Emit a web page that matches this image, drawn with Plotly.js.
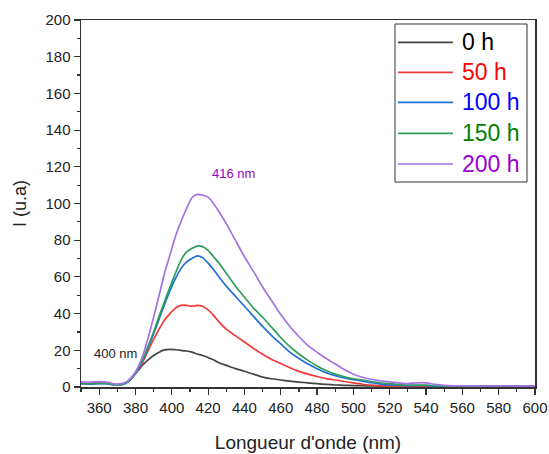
<!DOCTYPE html>
<html>
<head>
<meta charset="utf-8">
<script src="https://cdn.plot.ly/plotly-3.0.1.min.js"></script>
<style>html,body{margin:0;padding:0;background:#fff;}#chart{width:549px;height:454px;}</style>
</head>
<body>
<div id="chart"></div>
<script>
// Wavelength (nm)
var wavelength = [350,355,360,365,368,372,375,378,381,384,387,390,393,396,399,402,405,408,411,414,417,420,423,426,430,435,440,445,450,455,460,465,470,475,480,485,490,495,500,505,510,515,520,525,530,535,540,545,550,560,570,580,590,600];

var i0h   = [2.3,2.1,2.3,2.1,1.4,1.5,2.5,5,8.5,12,14.8,17.2,19,20.2,20.5,20.3,20,19.6,19,18,17.2,16,14.8,13.2,11.8,10,8.6,7,5.4,4.5,3.8,3.2,2.7,2.2,1.8,1.4,1.1,0.9,0.8,0.7,0.6,0.5,0.5,0.4,0.4,0.4,0.4,0.3,0.3,0.3,0.3,0.3,0.3,0.3];
var i50h  = [2.2,2.0,2.2,2.0,1.3,1.4,2.4,5,9,13.5,20,26,31.5,36.5,40,43,44.5,44.5,44,44.5,44,42,39,35.5,31.5,28,24.5,21,17.8,15,12.8,10.5,8.5,7,5.7,4.6,3.8,3,2.2,1.5,1.0,0.6,0.5,0.4,0.4,0.5,0.4,0.3,0.3,0.3,0.3,0.3,0.3,0.3];
var i100h = [1.8,1.6,1.8,1.7,1.1,1.2,2.2,4.8,9,14.5,21.5,29,37,45,52.5,59,64.5,68,70,71.5,70.5,67.5,64,60,55,49.5,44,38.5,33,28,23.5,19,15.5,12.5,10,7.8,6.2,5,4,3.2,2.3,1.6,1.2,1.0,0.8,0.8,0.8,0.5,0.4,0.3,0.3,0.3,0.3,0.3];
var i150h = [2.0,1.8,2.0,1.9,1.2,1.3,2.3,5,9.5,15,22.5,30,38.5,46.5,54.5,62,69,73.5,75.5,76.8,76.5,74.5,71,67.5,62,55,49,43,38,32.5,27,22,18,14.5,11.5,9,7,5.5,4.5,3.8,3,2.3,1.8,1.3,1.0,1.0,1.0,0.7,0.5,0.4,0.3,0.3,0.3,0.3];
var i200h = [2.8,2.6,2.9,2.6,1.7,1.8,2.8,5.5,10,17,27,38,50,62,72,82,90,97,103,105,104.5,103.5,100,95.5,89,80,71,63,54.5,47,39.5,33,27.5,22.5,19,15.5,12.5,9.5,7,5.3,4.2,3.4,2.8,2.2,1.8,2.3,2.3,1.4,0.9,0.6,0.5,0.6,0.5,0.5];

var seriesNames = ['0 h','50 h','100 h','150 h','200 h'];
var seriesData = [i0h, i50h, i100h, i150h, i200h];
var lineColors = ['#444444','#f03a3a','#2170d8','#2f9d5f','#a572e2'];
var textColors = ['#000000','#ff0000','#0000ff','#008000','#9900cc'];

var xTicks = [360,380,400,420,440,460,480,500,520,540,560,580,600];
var yTicks = [0,20,40,60,80,100,120,140,160,180,200];

var traces = seriesData.map(function(d, i){
  return {x: wavelength, y: d, type: 'scatter', mode: 'lines', name: seriesNames[i],
          line: {color: lineColors[i], width: 1.7, shape: 'spline', smoothing: 0.6}, showlegend: false};
});

// plot area in pixels
var L = 81, R = 535, T = 20, B = 387;
function px(x){ return (x - L) / (R - L); }
function py(y){ return (B - y) / (B - T); }

var shapes = [{type:'rect', xref:'paper', yref:'paper', x0:px(395), x1:px(527), y0:py(182), y1:py(24),
  line:{color:'#333', width:1}, fillcolor:'rgba(255,255,255,1)', layer:'above'}];
var annotations = [
  {x:369, y:18.5, xref:'x', yref:'y', text:'400 nm', showarrow:false, font:{family:'Liberation Sans, Arial', size:13, color:'#222'}},
  {x:434, y:116.5, xref:'x', yref:'y', text:'416 nm', showarrow:false, font:{family:'Liberation Sans, Arial', size:13, color:'#9900cc'}}
];
var rows = [42.3, 72.3, 102.3, 133.3, 164];
seriesNames.forEach(function(n, i){
  shapes.push({type:'line', xref:'paper', yref:'paper', x0:px(398), x1:px(453), y0:py(rows[i]), y1:py(rows[i]),
    line:{color:lineColors[i], width:1.7}, layer:'above'});
  annotations.push({xref:'paper', yref:'paper', x:px(460), y:py(rows[i]), xanchor:'left', yanchor:'middle',
    text:n, showarrow:false, font:{family:'Liberation Sans, Arial', size:23, color:textColors[i]}});
});

var axisCommon = {showline:true, linecolor:'#333', linewidth:1.5, mirror:true, ticks:'outside', ticklen:6,
  tickwidth:1.2, tickcolor:'#333', showgrid:false, zeroline:false,
  tickfont:{family:'Liberation Sans, Arial', size:15, color:'#222'}};

var layout = {
  width:549, height:454,
  margin:{l:L, r:549-R, t:T, b:454-B},
  paper_bgcolor:'#fff', plot_bgcolor:'#fff',
  showlegend:false,
  xaxis: Object.assign({}, axisCommon, {range:[350,600], tickvals:xTicks, ticktext:xTicks.map(String),
    minor:{dtick:10, tick0:350, ticks:'outside', ticklen:3, tickcolor:'#333', showgrid:false},
    title:{text:"Longueur d'onde (nm)", standoff:21, font:{family:'Liberation Sans, Arial', size:19, color:'#222'}}}),
  yaxis: Object.assign({}, axisCommon, {range:[0,200], tickvals:yTicks, ticktext:yTicks.map(String),
    minor:{dtick:10, tick0:0, ticks:'outside', ticklen:3, tickcolor:'#333', showgrid:false},
    title:{text:'I (u.a)', standoff:14, font:{family:'Liberation Sans, Arial', size:18, color:'#222'}}}),
  shapes: shapes,
  annotations: annotations
};

Plotly.newPlot('chart', traces, layout, {staticPlot:true, displayModeBar:false});
</script>
</body>
</html>
